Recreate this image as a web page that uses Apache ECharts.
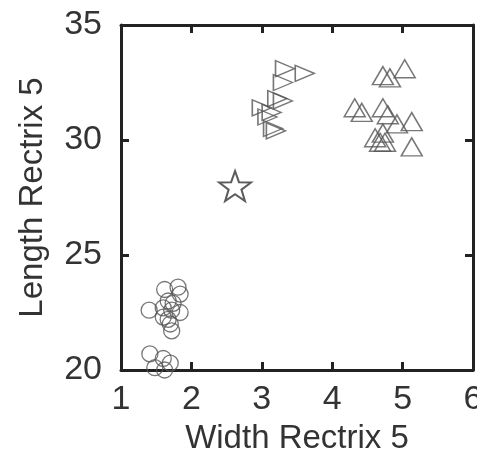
<!DOCTYPE html>
<html>
<head>
<meta charset="utf-8">
<script src="https://cdn.jsdelivr.net/npm/echarts@6/dist/echarts.min.js"></script>
<style>
  html, body { margin: 0; padding: 0; background: #fff; }
  #main { width: 477px; height: 463px; }
</style>
</head>
<body>
<div id="main"></div>
<script>
  // circles: [width, length]
  var circleData = [
    [1.40, 22.6], [1.62, 23.5], [1.81, 23.6], [1.84, 23.3], [1.67, 23.0],
    [1.74, 22.9], [1.60, 22.7], [1.72, 22.6], [1.84, 22.5], [1.60, 22.3],
    [1.67, 22.2], [1.70, 22.0], [1.72, 21.7], [1.41, 20.7], [1.60, 20.5],
    [1.70, 20.3], [1.48, 20.1], [1.62, 20.0]
  ];
  // right-pointing triangles
  var rightTriData = [
    [3.33, 33.1], [3.61, 32.9], [3.30, 32.5], [3.22, 31.8], [3.30, 31.7],
    [3.00, 31.4], [3.14, 31.2], [3.16, 30.5], [3.20, 30.4], [3.08, 31.0]
  ];
  // up-pointing triangles
  var upTriData = [
    [5.03, 33.1], [4.72, 32.8], [4.82, 32.7], [4.32, 31.4], [4.42, 31.2],
    [4.72, 31.4], [4.79, 31.1], [4.92, 30.7], [5.13, 30.8], [4.72, 30.3],
    [4.61, 30.1], [4.68, 29.9], [4.75, 29.9], [5.13, 29.7]
  ];
  var starData = [[2.62, 28.0]];

  var xTicks = [1, 2, 3, 4, 5, 6];
  var yTicks = [20, 25, 30, 35];

  var font = '"Liberation Sans", Arial, sans-serif';
  var axisCol = '#222';
  var markCol = '#555';
  var starPath = 'path://M50 0 L61.76 33.82 L97.55 34.55 L69.02 56.18 L79.39 90.45 L50 70 L20.61 90.45 L30.98 56.18 L2.45 34.55 L38.24 33.82 Z';

  var chart = echarts.init(document.getElementById('main'));

  function lineStyle() {
    return { show: true, onZero: false, lineStyle: { color: axisCol, width: 3 } };
  }
  function tickStyle() {
    return { show: true, inside: true, length: 8, lineStyle: { color: axisCol, width: 3 } };
  }

  var option = {
    animation: false,
    backgroundColor: '#fff',
    grid: { left: 121, right: 4, top: 25, bottom: 93, containLabel: false, outerBoundsMode: 'none' },
    xAxis: [
      {
        type: 'value', min: xTicks[0], max: xTicks[xTicks.length - 1], interval: 1,
        name: 'Width Rectrix 5', nameLocation: 'middle', nameGap: 52,
        nameTextStyle: { fontFamily: font, fontSize: 33, color: '#333' },
        axisLine: lineStyle(),
        axisTick: tickStyle(),
        splitLine: { show: false },
        axisLabel: { fontFamily: font, fontSize: 34, color: '#333', margin: 13 }
      },
      {
        type: 'value', position: 'top', min: xTicks[0], max: xTicks[xTicks.length - 1], interval: 1,
        axisLine: lineStyle(),
        axisTick: tickStyle(),
        splitLine: { show: false },
        axisLabel: { show: false }
      }
    ],
    yAxis: [
      {
        type: 'value', min: yTicks[0], max: yTicks[yTicks.length - 1], interval: 5,
        name: 'Length Rectrix 5', nameLocation: 'middle', nameGap: 72,
        nameTextStyle: { fontFamily: font, fontSize: 33, color: '#333' },
        axisLine: lineStyle(),
        axisTick: tickStyle(),
        splitLine: { show: false },
        axisLabel: { fontFamily: font, fontSize: 34, color: '#333', margin: 19 }
      },
      {
        type: 'value', position: 'right', min: yTicks[0], max: yTicks[yTicks.length - 1], interval: 5,
        axisLine: lineStyle(),
        axisTick: tickStyle(),
        splitLine: { show: false },
        axisLabel: { show: false }
      }
    ],
    series: [
      {
        type: 'scatter', data: circleData, symbol: 'circle', symbolSize: 16, clip: true,
        itemStyle: { color: 'rgba(0,0,0,0)', borderColor: markCol, borderWidth: 1.3 }
      },
      {
        type: 'scatter', data: rightTriData, symbol: 'triangle', symbolSize: [16, 19], symbolRotate: -90,
        itemStyle: { color: 'rgba(0,0,0,0)', borderColor: markCol, borderWidth: 1.5 }
      },
      {
        type: 'scatter', data: upTriData, symbol: 'triangle', symbolSize: [21, 18],
        itemStyle: { color: 'rgba(0,0,0,0)', borderColor: markCol, borderWidth: 1.5 }
      },
      {
        type: 'scatter', data: starData, symbol: starPath, symbolSize: [32, 30],
        itemStyle: { color: '#fff', borderColor: '#333', borderWidth: 2 }
      }
    ]
  };

  chart.setOption(option);
</script>
</body>
</html>
